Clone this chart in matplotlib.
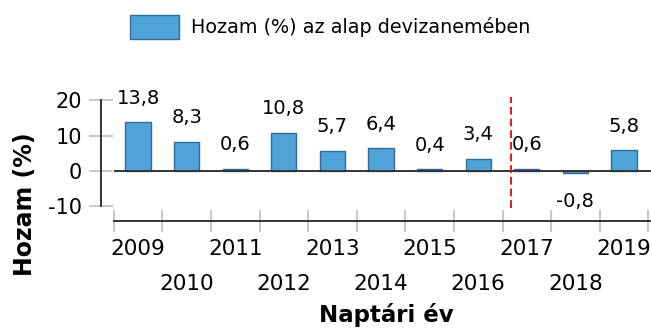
import matplotlib
matplotlib.use("Agg")
import matplotlib.pyplot as plt
from matplotlib.transforms import ScaledTranslation
from matplotlib.ticker import FixedLocator

# Annual returns (%) in the fund's currency
years = ["2009", "2010", "2011", "2012", "2013", "2014",
         "2015", "2016", "2017", "2018", "2019"]
returns = [13.8, 8.3, 0.6, 10.8, 5.7, 6.4, 0.4, 3.4, 0.6, -0.8, 5.8]
yticks = [-10, 0, 10, 20]
marker_pos = 7.68  # position of the vertical reference line (between 2016 and 2017)

legend_label = "Hozam (%) az alap devizanemében"
y_title = "Hozam (%)"
x_title = "Naptári év"

BAR_FILL = "#4fa3d9"
BAR_EDGE = "#2d6c9c"
TICK_GREY = "#c8c8c8"

plt.rcParams["font.family"] = ["DejaVu Sans"]

fig = plt.figure(figsize=(6.51, 3.31), dpi=100)
ax = fig.add_axes([0.1747, 0.3311, 0.8253, 0.3813])
ax.set_xlim(-0.5, 10.555)
ax.set_ylim(-14.45, 21.5)

x = list(range(len(years)))
bars = ax.bar(x, returns, width=0.52, color=BAR_FILL, edgecolor=BAR_EDGE,
              linewidth=1.0, label=legend_label, zorder=3)

# zero line across the plot
ax.axhline(0, color="#333333", lw=1.4, zorder=4)

# vertical dashed reference line
ax.vlines(marker_pos, -10.5, 21.0, colors="#e8141c", lw=1.4,
          linestyles=(0, (4, 2)), zorder=5)

# value labels
for xi, v in zip(x, returns):
    lbl = f"{v:.1f}".replace(".", ",")
    if v >= 0:
        ax.annotate(lbl, (xi, v), xytext=(0, 13.3), textcoords="offset points",
                    ha="center", va="baseline", fontsize=14)
    else:
        ax.annotate(lbl, (xi, v), xytext=(0, -13.5), textcoords="offset points",
                    ha="center", va="top", fontsize=14)

# spines
for s in ("top", "right"):
    ax.spines[s].set_visible(False)
ax.spines["left"].set_position(("outward", 9.1))
ax.spines["left"].set_bounds(-10, 20)
ax.spines["left"].set_linewidth(1.3)
ax.spines["left"].set_color("#222222")
ax.spines["bottom"].set_bounds(-0.5, 10.555)
ax.spines["bottom"].set_linewidth(1.3)
ax.spines["bottom"].set_color("#222222")

# y ticks
ax.set_yticks(yticks)
ax.set_yticklabels([str(t) for t in yticks])
ax.tick_params(axis="y", direction="inout", length=16.6, width=1.5,
               color=TICK_GREY, pad=5.2, labelsize=15)

# x ticks: labels at bar centres, grey ticks at category boundaries
ax.set_xticks(x)
ax.set_xticklabels(years)
ax.xaxis.set_minor_locator(FixedLocator([i - 0.5 for i in range(len(years) + 1)]))
ax.tick_params(axis="x", which="major", length=0, pad=12.5, labelsize=15.5)
ax.tick_params(axis="x", which="minor", direction="inout", length=15.8,
               width=1.5, color=TICK_GREY)

# stagger every second year label onto a lower row
shift = ScaledTranslation(0, -0.35, fig.dpi_scale_trans)
for i, t in enumerate(ax.get_xticklabels()):
    if i % 2 == 1:
        t.set_transform(t.get_transform() + shift)

# axis titles
fig.text(0.0384, 0.384, y_title, rotation=90, ha="center", va="center",
         fontsize=17, fontweight="bold")
fig.text(0.594, 0.026, x_title, ha="center", va="baseline",
         fontsize=16.5, fontweight="bold")

# legend
fig.legend(handles=[bars], labels=[legend_label], loc="upper left",
           bbox_to_anchor=(130 / 651, 1 - 15 / 331), frameon=False,
           fontsize=13.8, handlelength=2.55, handleheight=1.55,
           handletextpad=0.65, borderpad=0, borderaxespad=0)

fig.savefig("out.png", dpi=100)
